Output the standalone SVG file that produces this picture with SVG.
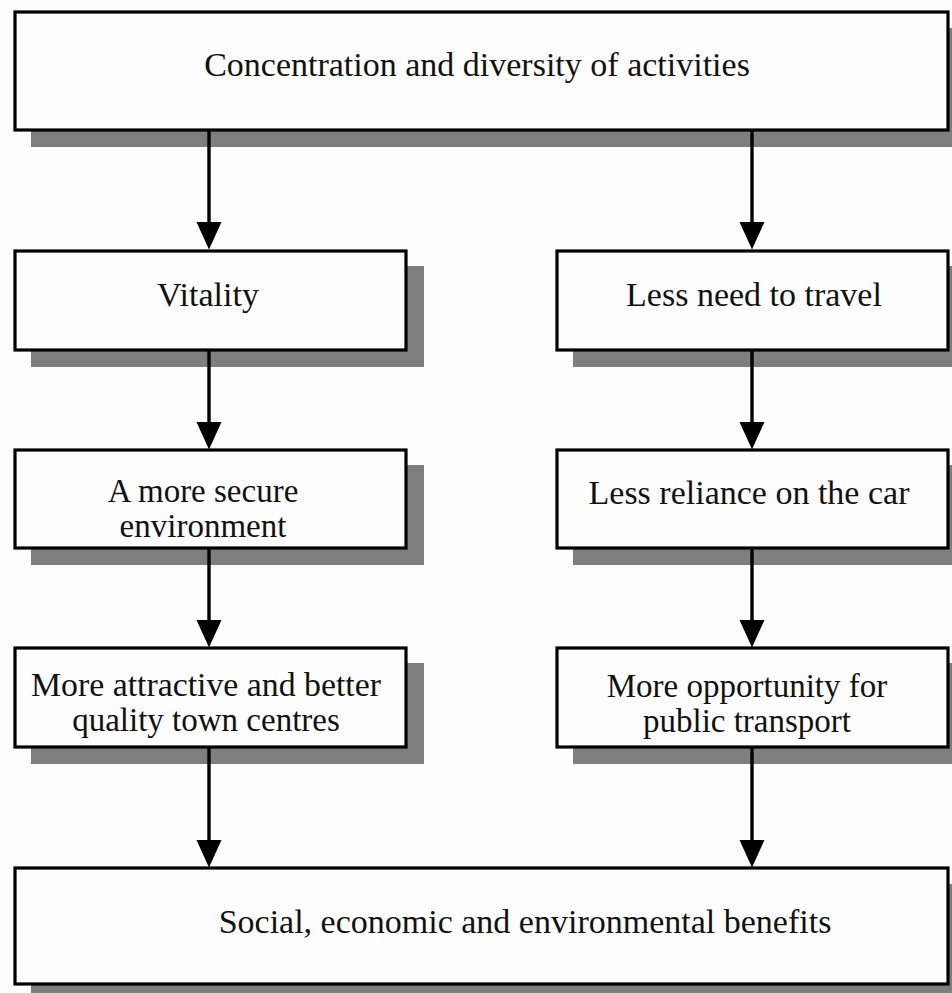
<svg xmlns="http://www.w3.org/2000/svg" width="952" height="993" viewBox="0 0 952 993">
  <style>
    .shadow { fill: #7e7e7e; }
    .box { fill: #fdfdfd; stroke: #000; stroke-width: 3.2; }
    .label { font-family: "Liberation Serif", "Times New Roman", serif; font-size: 34px; fill: #111; text-anchor: middle; }
    .two { font-size: 33px; }
    .link { stroke: #000; stroke-width: 3.4; fill: none; marker-end: url(#head); }
  </style>
  <defs>
    <marker id="head" markerUnits="userSpaceOnUse" markerWidth="28" markerHeight="26" refX="0" refY="12.5" orient="auto" overflow="visible">
      <path d="M0,0 L27.5,12.5 L0,25 Z" fill="#000"/>
    </marker>
  </defs>
  <rect width="952" height="993" fill="#fdfdfd"/>

  <!-- source box -->
  <g id="activities">
    <rect class="shadow" x="31" y="28" width="933" height="119"/>
    <rect class="box" x="15" y="12" width="933" height="118"/>
    <text class="label" x="477" y="76">Concentration and diversity of activities</text>
  </g>

  <!-- left branch -->
  <g id="vitality">
    <rect class="shadow" x="31" y="266" width="393" height="101"/>
    <rect class="box" x="15" y="251" width="391" height="99"/>
    <text class="label" x="208" y="306">Vitality</text>
  </g>
  <g id="secure">
    <rect class="shadow" x="31" y="465" width="393" height="100"/>
    <rect class="box" x="15" y="450" width="391" height="98"/>
    <text class="label two" x="203" y="502">A more secure</text>
    <text class="label two" x="203" y="537">environment</text>
  </g>
  <g id="attractive">
    <rect class="shadow" x="31" y="663" width="393" height="101"/>
    <rect class="box" x="15" y="648" width="391" height="99"/>
    <text class="label two" x="206" y="696" textLength="350" lengthAdjust="spacingAndGlyphs">More attractive and better</text>
    <text class="label two" x="206" y="731">quality town centres</text>
  </g>

  <!-- right branch -->
  <g id="travel">
    <rect class="shadow" x="573" y="266" width="393" height="101"/>
    <rect class="box" x="557" y="251" width="391" height="99"/>
    <text class="label" x="754" y="306">Less need to travel</text>
  </g>
  <g id="car">
    <rect class="shadow" x="573" y="465" width="393" height="100"/>
    <rect class="box" x="557" y="450" width="391" height="98"/>
    <text class="label" x="749" y="504">Less reliance on the car</text>
  </g>
  <g id="transport">
    <rect class="shadow" x="573" y="663" width="393" height="101"/>
    <rect class="box" x="557" y="648" width="391" height="99"/>
    <text class="label two" x="747" y="697">More opportunity for</text>
    <text class="label two" x="747" y="732">public transport</text>
  </g>

  <!-- outcome box -->
  <g id="benefits">
    <rect class="shadow" x="31" y="884" width="933" height="117"/>
    <rect class="box" x="15" y="868" width="933" height="116"/>
    <text class="label" x="525" y="933">Social, economic and environmental benefits</text>
  </g>

  <!-- connectors -->
  <g id="connectors">
    <line class="link" x1="209" y1="131" x2="209" y2="222"/>
    <line class="link" x1="209" y1="351" x2="209" y2="422"/>
    <line class="link" x1="209" y1="549" x2="209" y2="620"/>
    <line class="link" x1="209" y1="748" x2="209" y2="840"/>
    <line class="link" x1="752" y1="131" x2="752" y2="222"/>
    <line class="link" x1="752" y1="351" x2="752" y2="422"/>
    <line class="link" x1="752" y1="549" x2="752" y2="620"/>
    <line class="link" x1="752" y1="748" x2="752" y2="840"/>
  </g>
</svg>
